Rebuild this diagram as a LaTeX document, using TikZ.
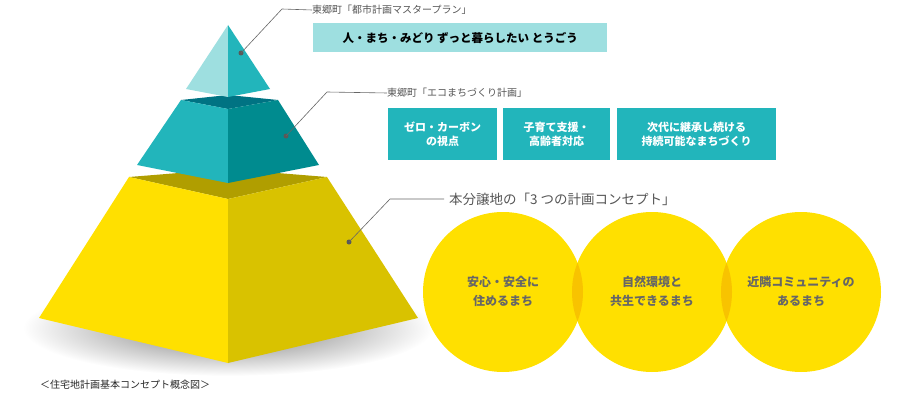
\documentclass[tikz,border=0pt]{standalone}
\usepackage{fontspec}
\setmainfont{Noto Sans CJK JP}
\newfontfamily\jpb[BoldFont={* Bold}]{Noto Sans CJK JP}
\usetikzlibrary{calc}
\definecolor{tlight}{HTML}{9EDFE0}
\definecolor{tmid}{HTML}{22B5BB}
\definecolor{tdk}{HTML}{008B8F}
\definecolor{tdker}{HTML}{007383}
\definecolor{ylw}{HTML}{FFE000}
\definecolor{ydk}{HTML}{D9C200}
\definecolor{ydker}{HTML}{B09E00}
\definecolor{ovl}{HTML}{F8C300}
\definecolor{gtxt}{HTML}{555555}
\definecolor{ctxt}{HTML}{666666}
\tikzset{
  lead/.style={draw=gray!80!black, line width=0.6pt},
  dot/.style={circle, fill=gray!70!black, inner sep=0pt, minimum size=5pt},
  lbl/.style={anchor=west, inner sep=0pt, text=gtxt, font=\fontsize{10}{12}\selectfont},
  tbox/.style={fill=tmid, text=white, font=\fontsize{11}{14}\selectfont\bfseries, align=center, inner sep=0pt, anchor=north west},
  ctx/.style={text=ctxt, font=\fontsize{12}{19}\selectfont\bfseries, align=center},
}
\begin{document}
\begin{tikzpicture}[x=1pt,y=-1pt]
\useasboundingbox (0,0) rectangle (900,404);
% shadow
\shade[inner color=black!55, outer color=white] (228,328) ellipse (205 and 48);
% bottom pyramid
\fill[ydker] (129,177) -- (228,169) -- (327,177) -- (228,199) -- cycle;
\fill[ylw] (129,177) -- (228,199) -- (228,363) -- (39,318) -- cycle;
\fill[ydk] (327,177) -- (228,199) -- (228,363) -- (418,318) -- cycle;
% middle pyramid
\fill[tdker] (181,100) -- (228,95) -- (278,100) -- (228,109) -- cycle;
\fill[tmid] (181,100) -- (228,109) -- (228,183) -- (137,165) -- cycle;
\fill[tdk] (278,100) -- (228,109) -- (228,183) -- (319,165) -- cycle;
% top pyramid
\fill[tlight] (228,25) -- (228,97) -- (186,89) -- cycle;
\fill[tmid] (228,25) -- (228,97) -- (270,89) -- cycle;
% leaders
\node[dot] (d1) at (241,53) {};
\coordinate (k1) at (282,9);
\node[lbl] (l1) at (312,10) {東郷町「都市計画マスタープラン」};
\draw[lead] (d1.center) -- (k1) -- (l1.west);
\node[fill=tlight, minimum width=294pt, minimum height=29pt, anchor=north west, inner sep=0pt,
  font=\fontsize{11.5}{14}\selectfont\bfseries, text=black] (b0) at (313,23) {人・まち・みどり ずっと暮らしたい とうごう};

\node[dot] (d2) at (286,136) {};
\coordinate (k2) at (327,92);
\node[lbl] (l2) at (387,93) {東郷町「エコまちづくり計画」};
\draw[lead] (d2.center) -- (k2) -- (l2.west);
\node[tbox, minimum width=109pt, minimum height=52pt] (b1) at (388,108) {ゼロ・カーボン\\の視点};
\node[tbox, minimum width=107pt, minimum height=52pt] (b2) at (503,108) {子育て支援・\\高齢者対応};
\node[tbox, minimum width=159pt, minimum height=52pt] (b3) at (617,108) {次代に継承し続ける\\持続可能なまちづくり};

\node[dot] (d3) at (349,242) {};
\coordinate (k3) at (390,199);
\node[lbl, font=\fontsize{13.5}{16}\selectfont] (l3) at (449,199) {本分譲地の「3 つの計画コンセプト」};
\draw[lead] (d3.center) -- (k3) -- ([xshift=-5pt]l3.west);
% circles
\fill[ylw] (503,292) circle (80);
\fill[ylw] (652,292) circle (80);
\fill[ylw] (801,292) circle (80);
\begin{scope}\clip (503,292) circle (80); \fill[ovl] (652,292) circle (80);\end{scope}
\begin{scope}\clip (652,292) circle (80); \fill[ovl] (801,292) circle (80);\end{scope}
\node[ctx] (c1) at (503,291) {安心・安全に\\住めるまち};
\node[ctx] (c2) at (652,291) {自然環境と\\共生できるまち};
\node[ctx] (c3) at (801,291) {近隣コミュニティの\\あるまち};
\node[anchor=west, inner sep=0pt, font=\fontsize{10}{12}\selectfont, text=black!85] (cap) at (40,385) {＜住宅地計画基本コンセプト概念図＞};
\end{tikzpicture}
\end{document}
